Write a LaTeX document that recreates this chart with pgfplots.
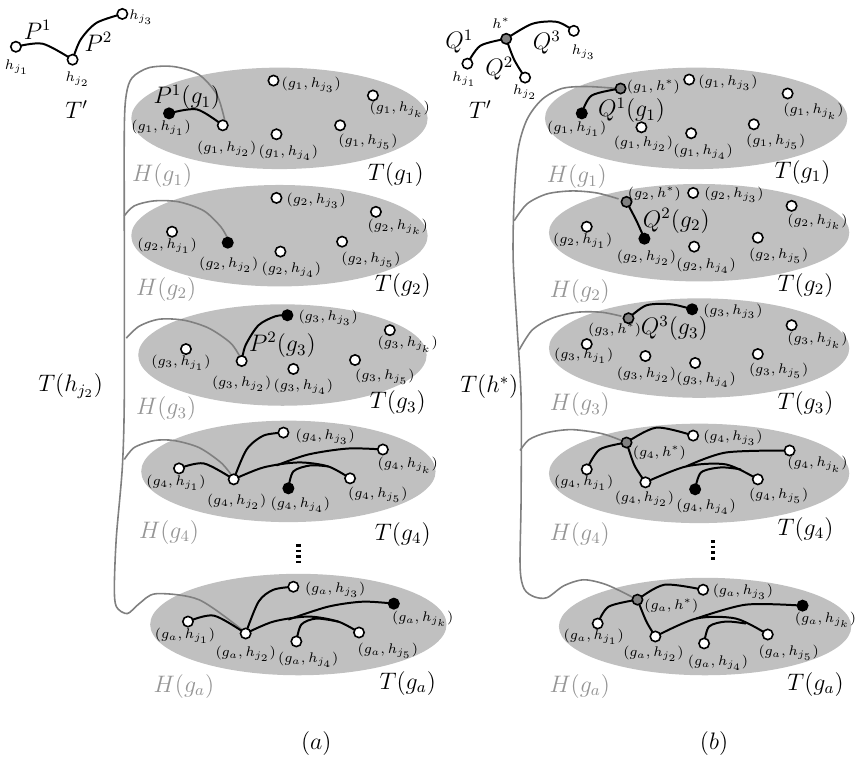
\documentclass[border=0pt]{standalone}
\usepackage{pgfplots}
\pgfplotsset{compat=1.18}
\definecolor{ell}{RGB}{192,192,192}
\definecolor{gline}{RGB}{128,128,128}
\definecolor{hlab}{RGB}{150,150,150}
\definecolor{gnode}{RGB}{128,128,128}
\newcommand{\lab}[3]{\node[font=\fontsize{7.4}{8}\selectfont,inner sep=0pt] at (axis cs:#1,#2) {$#3$};}
\newcommand{\blab}[3]{\node[font=\fontsize{11.5}{13}\selectfont,inner sep=0pt] at (axis cs:#1,#2) {$#3$};}
\newcommand{\hl}[3]{\node[font=\fontsize{11.5}{13}\selectfont,inner sep=0pt,text=hlab] at (axis cs:#1,#2) {$#3$};}
\begin{document}
\begin{tikzpicture}
\begin{axis}[width=428pt,height=383.5pt,scale only axis,
  xmin=0,xmax=856,ymin=0,ymax=767,y dir=reverse,hide axis,clip=false,
  edge/.style={black,line width=1pt,smooth,no marks},
  gedge/.style={gline,line width=0.8pt,smooth,no marks}]
\path (axis cs:0,0) rectangle (axis cs:856,767);
% ellipses
\fill[ell] (axis cs:281,119) ellipse [x radius=149,y radius=51];
\fill[ell] (axis cs:281,237) ellipse [x radius=149,y radius=51];
\fill[ell] (axis cs:284,357) ellipse [x radius=145,y radius=51];
\fill[ell] (axis cs:290,474) ellipse [x radius=148,y radius=51];
\fill[ell] (axis cs:300,628) ellipse [x radius=149,y radius=51];
\fill[ell] (axis cs:700,119) ellipse [x radius=152,y radius=51];
\fill[ell] (axis cs:703,234) ellipse [x radius=151,y radius=49];
\fill[ell] (axis cs:703,350) ellipse [x radius=151,y radius=50];
\fill[ell] (axis cs:703,476) ellipse [x radius=151,y radius=50];
\fill[ell] (axis cs:709,630) ellipse [x radius=147,y radius=49];
% gray paths panel a
\addplot[gedge] coordinates {(226,121) (218,95) (200,75) (175,67) (150,68) (133,78) (127,95) (125,130) (125,250) (125,400) (123,470) (117,540) (115,590) (117,610) (128,617) (140,607) (157,597) (200,603) (243,633)};
\addplot[gedge] coordinates {(125,217) (135,207) (155,202) (180,203) (205,212) (222,228) (229,240)};
\addplot[gedge] coordinates {(127,340) (140,328) (160,321) (185,322) (210,330) (232,345) (242,360)};
\addplot[gedge] coordinates {(125,462) (135,450) (155,443) (175,443) (200,450) (222,465) (233,478)};
% gray paths panel b
\addplot[gedge] coordinates {(621,89) (590,87) (565,89) (545,100) (530,120) (521,150) (517,200) (516,260) (520,330) (524,400) (524,500) (523,570) (527,592) (537,600) (550,601) (567,589) (587,583) (610,588) (637,601)};
\addplot[gedge] coordinates {(517,222) (530,205) (550,195) (575,192) (600,194) (622,200)};
\addplot[gedge] coordinates {(522,352) (535,332) (555,320) (580,314) (605,314) (625,318)};
\addplot[gedge] coordinates {(523,453) (532,442) (550,435) (575,432) (605,436) (625,443)};
% black edges panel a
\addplot[edge] coordinates {(16,47) (43,44) (73,60)};
\addplot[edge] coordinates {(73,60) (81,40) (97,23) (123,14)};
\addplot[edge] coordinates {(170,114) (198,110) (224,126)};
\addplot[edge] coordinates {(243,363) (247,347) (260,327) (277,318) (289,317)};
\addplot[edge] coordinates {(180,471) (205,466) (235,482)};
\addplot[edge] coordinates {(235,482) (248,452) (265,438) (285,435)};
\addplot[edge] coordinates {(235,482) (265,470) (300,465) (330,469) (352,481)};
\addplot[edge] coordinates {(278,468) (310,457) (350,451) (385,452)};
\addplot[edge] coordinates {(290,491) (295,474) (312,468) (330,469)};
\addplot[edge] coordinates {(189,625) (215,619) (247,637)};
\addplot[edge] coordinates {(247,637) (260,605) (275,593) (295,590)};
\addplot[edge] coordinates {(247,637) (275,625) (310,620) (340,625) (361,636)};
\addplot[edge] coordinates {(290,623) (330,610) (365,605) (396,607)};
\addplot[edge] coordinates {(298,645) (303,628) (318,622) (340,625)};
% black edges panel b
\addplot[edge] coordinates {(509,39) (483,46) (470,64)};
\addplot[edge] coordinates {(509,39) (517,60) (528,78)};
\addplot[edge] coordinates {(509,39) (535,24) (560,22) (577,31)};
\addplot[edge] coordinates {(585,114) (595,96) (624,89)};
\addplot[edge] coordinates {(630,203) (640,222) (648,240)};
\addplot[edge] coordinates {(632,320) (650,307) (675,306) (696,311)};
\addplot[edge] coordinates {(630,445) (603,452) (590,472)};
\addplot[edge] coordinates {(630,445) (660,430) (697,438)};
\addplot[edge] coordinates {(630,445) (638,468) (649,485)};
\addplot[edge] coordinates {(649,485) (690,469) (730,467) (762,482)};
\addplot[edge] coordinates {(690,469) (730,455) (794,453)};
\addplot[edge] coordinates {(699,492) (705,475) (725,470) (745,472)};
\addplot[edge] coordinates {(641,603) (612,610) (601,627)};
\addplot[edge] coordinates {(641,603) (668,588) (707,593)};
\addplot[edge] coordinates {(641,603) (650,625) (659,640)};
\addplot[edge] coordinates {(659,640) (700,622) (740,622) (772,638)};
\addplot[edge] coordinates {(700,622) (750,608) (807,609)};
\addplot[edge] coordinates {(708,647) (713,630) (730,625) (750,627)};
% vertical dots
\addplot[black,line width=2.2pt,dash pattern=on 1.4pt off 1.4pt] coordinates {(300,547) (300,568)};
\addplot[black,line width=2.2pt,dash pattern=on 1.4pt off 1.4pt] coordinates {(717,543) (717,564)};
% nodes
\addplot[only marks,mark=*,mark size=2.6pt,mark options={fill=white,draw=black,line width=0.8pt}] coordinates {
(16,47) (73,60) (123,14)
(224,126) (275,81) (278,135) (375,96) (342,126)
(173,233) (278,199) (282,253) (378,213) (344,243)
(187,351) (243,363) (295,371) (392,332) (357,362)
(180,471) (235,482) (285,435) (385,452) (352,481)
(189,625) (247,637) (295,590) (298,645) (361,636)
(470,64) (528,78) (577,31)
(693,80) (645,128) (695,134) (792,94) (758,125)
(697,194) (590,228) (698,248) (796,207) (762,239)
(590,346) (649,358) (699,365) (796,327) (762,356)
(697,438) (590,472) (649,485) (794,453) (762,482)
(707,593) (601,627) (659,640) (708,647) (772,638)};
\addplot[only marks,mark=*,mark size=2.6pt,mark options={fill=black,draw=black,line width=0.8pt}] coordinates {
(170,114) (229,244) (289,317) (290,491) (396,607)
(585,114) (648,240) (696,311) (699,492) (807,609)};
\addplot[only marks,mark=*,mark size=2.6pt,mark options={fill=gnode,draw=black,line width=0.8pt}] coordinates {
(509,39) (624,89) (630,203) (632,320) (630,445) (641,603)};
% labels panel a
\lab{17}{68}{h_{j_1}} \lab{78}{80}{h_{j_2}} \lab{142}{17}{h_{j_3}}
\blab{38}{30}{P^1} \blab{99}{42}{P^2} \blab{77}{110}{T'}
\lab{162}{128}{(g_1,h_{j_1})} \lab{228}{150}{(g_1,h_{j_2})} \lab{313}{85}{(g_1,h_{j_3})}
\lab{290}{154}{(g_1,h_{j_4})} \lab{402}{110}{(g_1,h_{j_k})} \lab{370}{143}{(g_1,h_{j_5})}
\lab{168}{247}{(g_2,h_{j_1})} \lab{230}{266}{(g_2,h_{j_2})} \lab{318}{202}{(g_2,h_{j_3})}
\lab{293}{271}{(g_2,h_{j_4})} \lab{400}{228}{(g_2,h_{j_k})} \lab{373}{261}{(g_2,h_{j_5})}
\lab{182}{365}{(g_3,h_{j_1})} \lab{243}{386}{(g_3,h_{j_2})} \lab{330}{320}{(g_3,h_{j_3})}
\lab{305}{389}{(g_3,h_{j_4})} \lab{410}{346}{(g_3,h_{j_k})} \lab{387}{379}{(g_3,h_{j_5})}
\lab{177}{485}{(g_4,h_{j_1})} \lab{238}{505}{(g_4,h_{j_2})} \lab{327}{439}{(g_4,h_{j_3})}
\lab{302}{508}{(g_4,h_{j_4})} \lab{410}{468}{(g_4,h_{j_k})} \lab{380}{498}{(g_4,h_{j_5})}
\lab{186}{639}{(g_a,h_{j_1})} \lab{247}{657}{(g_a,h_{j_2})} \lab{337}{593}{(g_a,h_{j_3})}
\lab{310}{663}{(g_a,h_{j_4})} \lab{425}{622}{(g_a,h_{j_k})} \lab{390}{654}{(g_a,h_{j_5})}
\blab{188}{98}{P^1(g_1)} \blab{284}{347}{P^2(g_3)}
\hl{163}{177}{H(g_1)} \hl{167}{291}{H(g_2)} \hl{167}{411}{H(g_3)} \hl{170}{535}{H(g_4)} \hl{185}{690}{H(g_a)}
\blab{398}{175}{T(g_1)} \blab{405}{287}{T(g_2)} \blab{400}{405}{T(g_3)} \blab{405}{537}{T(g_4)} \blab{410}{687}{T(g_a)}
\blab{71}{388}{T(h_{j_2})}
\node[font=\fontsize{12}{14}\selectfont,inner sep=0pt] at (axis cs:318,748) {$(a)$};
% labels panel b
\lab{504}{23}{h^*} \lab{467}{80}{h_{j_1}} \lab{528}{93}{h_{j_2}} \lab{587}{52}{h_{j_3}}
\blab{462}{42}{Q^1} \blab{502}{69}{Q^2} \blab{550}{43}{Q^3} \blab{483}{110}{T'}
\lab{657}{87}{(g_1,h^*)} \lab{732}{83}{(g_1,h_{j_3})} \lab{580}{129}{(g_1,h_{j_1})}
\lab{647}{145}{(g_1,h_{j_2})} \lab{707}{153}{(g_1,h_{j_4})} \lab{818}{112}{(g_1,h_{j_k})} \lab{780}{143}{(g_1,h_{j_5})}
\lab{658}{195}{(g_2,h^*)} \lab{738}{196}{(g_2,h_{j_3})} \lab{586}{242}{(g_2,h_{j_1})}
\lab{650}{259}{(g_2,h_{j_2})} \lab{710}{267}{(g_2,h_{j_4})} \lab{822}{223}{(g_2,h_{j_k})} \lab{783}{257}{(g_2,h_{j_5})}
\lab{618}{332}{(g_3,h^*)} \lab{737}{313}{(g_3,h_{j_3})} \lab{587}{358}{(g_3,h_{j_1})}
\lab{650}{377}{(g_3,h_{j_2})} \lab{710}{382}{(g_3,h_{j_4})} \lab{822}{342}{(g_3,h_{j_k})} \lab{783}{373}{(g_3,h_{j_5})}
\lab{663}{455}{(g_4,h^*)} \lab{737}{440}{(g_4,h_{j_3})} \lab{587}{485}{(g_4,h_{j_1})}
\lab{648}{502}{(g_4,h_{j_2})} \lab{710}{510}{(g_4,h_{j_4})} \lab{822}{467}{(g_4,h_{j_k})} \lab{783}{499}{(g_4,h_{j_5})}
\lab{675}{609}{(g_a,h^*)} \lab{747}{595}{(g_a,h_{j_3})} \lab{597}{640}{(g_a,h_{j_1})}
\lab{657}{657}{(g_a,h_{j_2})} \lab{722}{666}{(g_a,h_{j_4})} \lab{830}{623}{(g_a,h_{j_k})} \lab{793}{656}{(g_a,h_{j_5})}
\blab{635}{111}{Q^1(g_1)} \blab{680}{222}{Q^2(g_2)} \blab{678}{330}{Q^3(g_3)}
\hl{580}{178}{H(g_1)} \hl{583}{293}{H(g_2)} \hl{583}{407}{H(g_3)} \hl{583}{537}{H(g_4)} \hl{583}{690}{H(g_a)}
\blab{807}{173}{T(g_1)} \blab{810}{287}{T(g_2)} \blab{810}{406}{T(g_3)} \blab{810}{532}{T(g_4)} \blab{820}{688}{T(g_a)}
\blab{492}{389}{T(h^*)}
\node[font=\fontsize{12}{14}\selectfont,inner sep=0pt] at (axis cs:718,748) {$(b)$};
\end{axis}
\end{tikzpicture}
\end{document}
